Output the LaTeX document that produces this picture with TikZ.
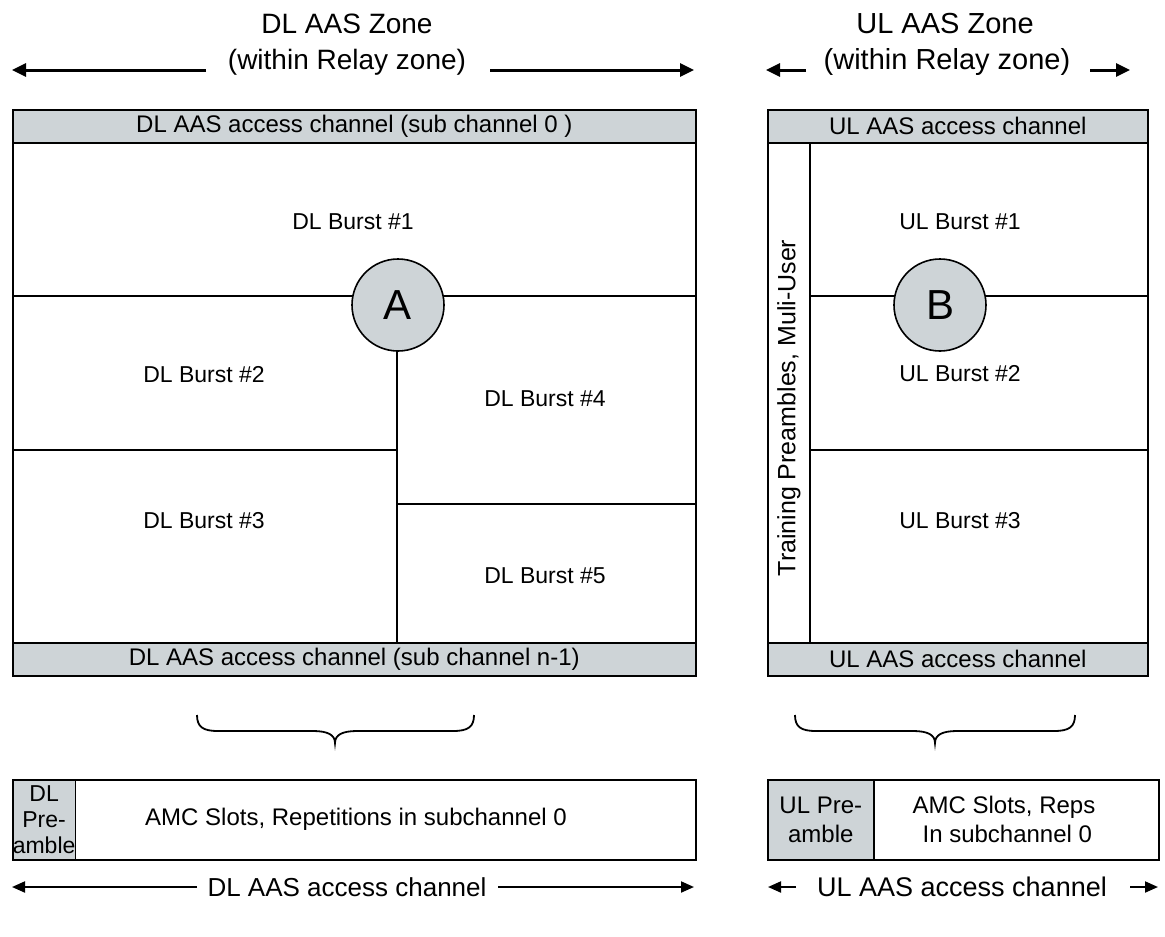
\documentclass[tikz,border=0pt]{standalone}
\usepackage{fontspec}
\setmainfont{Liberation Sans}
\usetikzlibrary{arrows.meta}
\definecolor{bandgray}{RGB}{206,212,215}
\begin{document}
\begin{tikzpicture}[x=1pt,y=-1pt,
  frame/.style={draw, line width=1.6pt, inner sep=0pt, anchor=north west},
  band/.style={draw, line width=1.6pt, fill=bandgray, inner sep=0pt, anchor=north west, font=\fontsize{24}{28}\selectfont},
  divline/.style={line width=1.6pt},
  lab/.style={font=\fontsize{23}{27}\selectfont, inner sep=0pt},
  title/.style={font=\fontsize{28}{32}\selectfont, inner sep=0pt},
  bigarrow/.style={line width=3pt, -{Triangle[length=14pt,width=13pt]}},
  midarrow/.style={line width=2pt, -{Triangle[length=13pt,width=11pt]}},
  marker/.style={circle, draw, line width=1.6pt, fill=bandgray, minimum size=92pt, inner sep=0pt, font=\fontsize{42}{46}\selectfont},
  bracepath/.style={line width=1.8pt},
  pre/.style={draw, line width=1.6pt, fill=bandgray, inner sep=0pt, anchor=north west, align=center, font=\fontsize{23}{26}\selectfont},
]
\useasboundingbox (0,0) rectangle (1165,937);

% ---------- titles and top arrows ----------
\node[title] (dltitle1) at (347,24) {DL AAS Zone};
\node[title] (dltitle2) at (347,62) {(within Relay zone)};
\coordinate (dlal) at (12,70);
\coordinate (dlar) at (694,70);
\draw[bigarrow] (206,70) -- (dlal);
\draw[bigarrow] (490,70) -- (dlar);

\node[title, font=\fontsize{29}{33}\selectfont] (ultitle1) at (945,24) {UL AAS Zone};
\node[title, font=\fontsize{29}{33}\selectfont] (ultitle2) at (947,62) {(within Relay zone)};
\coordinate (ulal) at (766,70);
\coordinate (ular) at (1130,70);
\draw[bigarrow] (806,70) -- (ulal);
\draw[bigarrow] (1090,70) -- (ular);

% ---------- DL zone ----------
\node[frame, minimum width=683pt, minimum height=566pt] (dlbox) at (12,109) {};
\draw[divline] (12,296) -- (695,296);
\draw[divline] (397,305) -- (397,642);
\draw[divline] (12,450) -- (397,450);
\draw[divline] (397,504) -- (695,504);
\node[band, minimum width=683pt, minimum height=33pt] (dltop) at (12,109) {DL AAS access channel (sub channel 0 )};
\node[band, minimum width=683pt, minimum height=33pt] (dlbot) at (12,642) {DL AAS access channel (sub channel n-1)};
\node[marker] (A) at (398,305) {A};
\node[lab] (dlb1) at (353,222) {DL Burst \#1};
\node[lab] (dlb2) at (204,375) {DL Burst \#2};
\node[lab] (dlb4) at (545,399) {DL Burst \#4};
\node[lab] (dlb3) at (204,521) {DL Burst \#3};
\node[lab] (dlb5) at (545,576) {DL Burst \#5};

% ---------- UL zone ----------
\node[frame, minimum width=380pt, minimum height=566pt] (ulbox) at (767,109) {};
\draw[divline] (810,142) -- (810,642);
\draw[divline] (810,296) -- (1147,296);
\draw[divline] (810,450) -- (1147,450);
\node[band, minimum width=380pt, minimum height=33pt] (ultop) at (767,109) {UL AAS access channel};
\node[band, minimum width=380pt, minimum height=33pt] (ulbot) at (767,642) {UL AAS access channel};
\node[marker] (B) at (940,305) {B};
\node[lab] (ulb1) at (960,222) {UL Burst \#1};
\node[lab] (ulb2) at (960,374) {UL Burst \#2};
\node[lab] (ulb3) at (960,521) {UL Burst \#3};
\node[lab, rotate=90, font=\fontsize{25}{29}\selectfont] (train) at (789,408) {Training Preambles, Muli-User};

% ---------- braces ----------
\draw[bracepath] (197,715) .. controls (197,727) and (203,731) .. (218,731)
  -- (313,731) .. controls (328,731) and (335,735) .. (335,743)
  .. controls (335,735) and (342,731) .. (357,731)
  -- (453,731) .. controls (468,731) and (474,727) .. (474,715);
\draw[bracepath] (795,715) .. controls (795,727) and (801,731) .. (816,731)
  -- (913,731) .. controls (928,731) and (935,735) .. (935,743)
  .. controls (935,735) and (942,731) .. (957,731)
  -- (1054,731) .. controls (1069,731) and (1075,727) .. (1075,715);

% ---------- bottom boxes ----------
\node[frame, minimum width=683pt, minimum height=80pt] (dlamc) at (12,779) {};
\node[pre, minimum width=53pt, minimum height=80pt] (dlpre) at (12,779) {DL\\Pre-\\amble};
\node[lab, font=\fontsize{24}{28}\selectfont] (dlamctext) at (356,819) {AMC Slots, Repetitions in subchannel 0};

\node[frame, minimum width=391pt, minimum height=80pt] (ulamc) at (767,779) {};
\node[pre, minimum width=106pt, minimum height=80pt, font=\fontsize{24}{29}\selectfont] (ulpre) at (767,779) {UL Pre-\\amble};
\node[lab, align=center, font=\fontsize{24}{29}\selectfont] (ulamctext) at (1004,819) {AMC Slots, Reps\\\ In subchannel 0};

% ---------- bottom arrows ----------
\node[title, font=\fontsize{26}{30}\selectfont] (dlacc) at (347,887) {DL AAS access channel};
\coordinate (dlbl) at (12,887);
\coordinate (dlbr) at (694,887);
\draw[midarrow] (197,887) -- (dlbl);
\draw[midarrow] (498,887) -- (dlbr);

\node[title, font=\fontsize{27}{31}\selectfont] (ulacc) at (962,887) {UL AAS access channel};
\coordinate (ulbl) at (768,887);
\coordinate (ulbr) at (1158,887);
\draw[midarrow] (796,887) -- (ulbl);
\draw[midarrow] (1130,887) -- (ulbr);
\end{tikzpicture}
\end{document}
